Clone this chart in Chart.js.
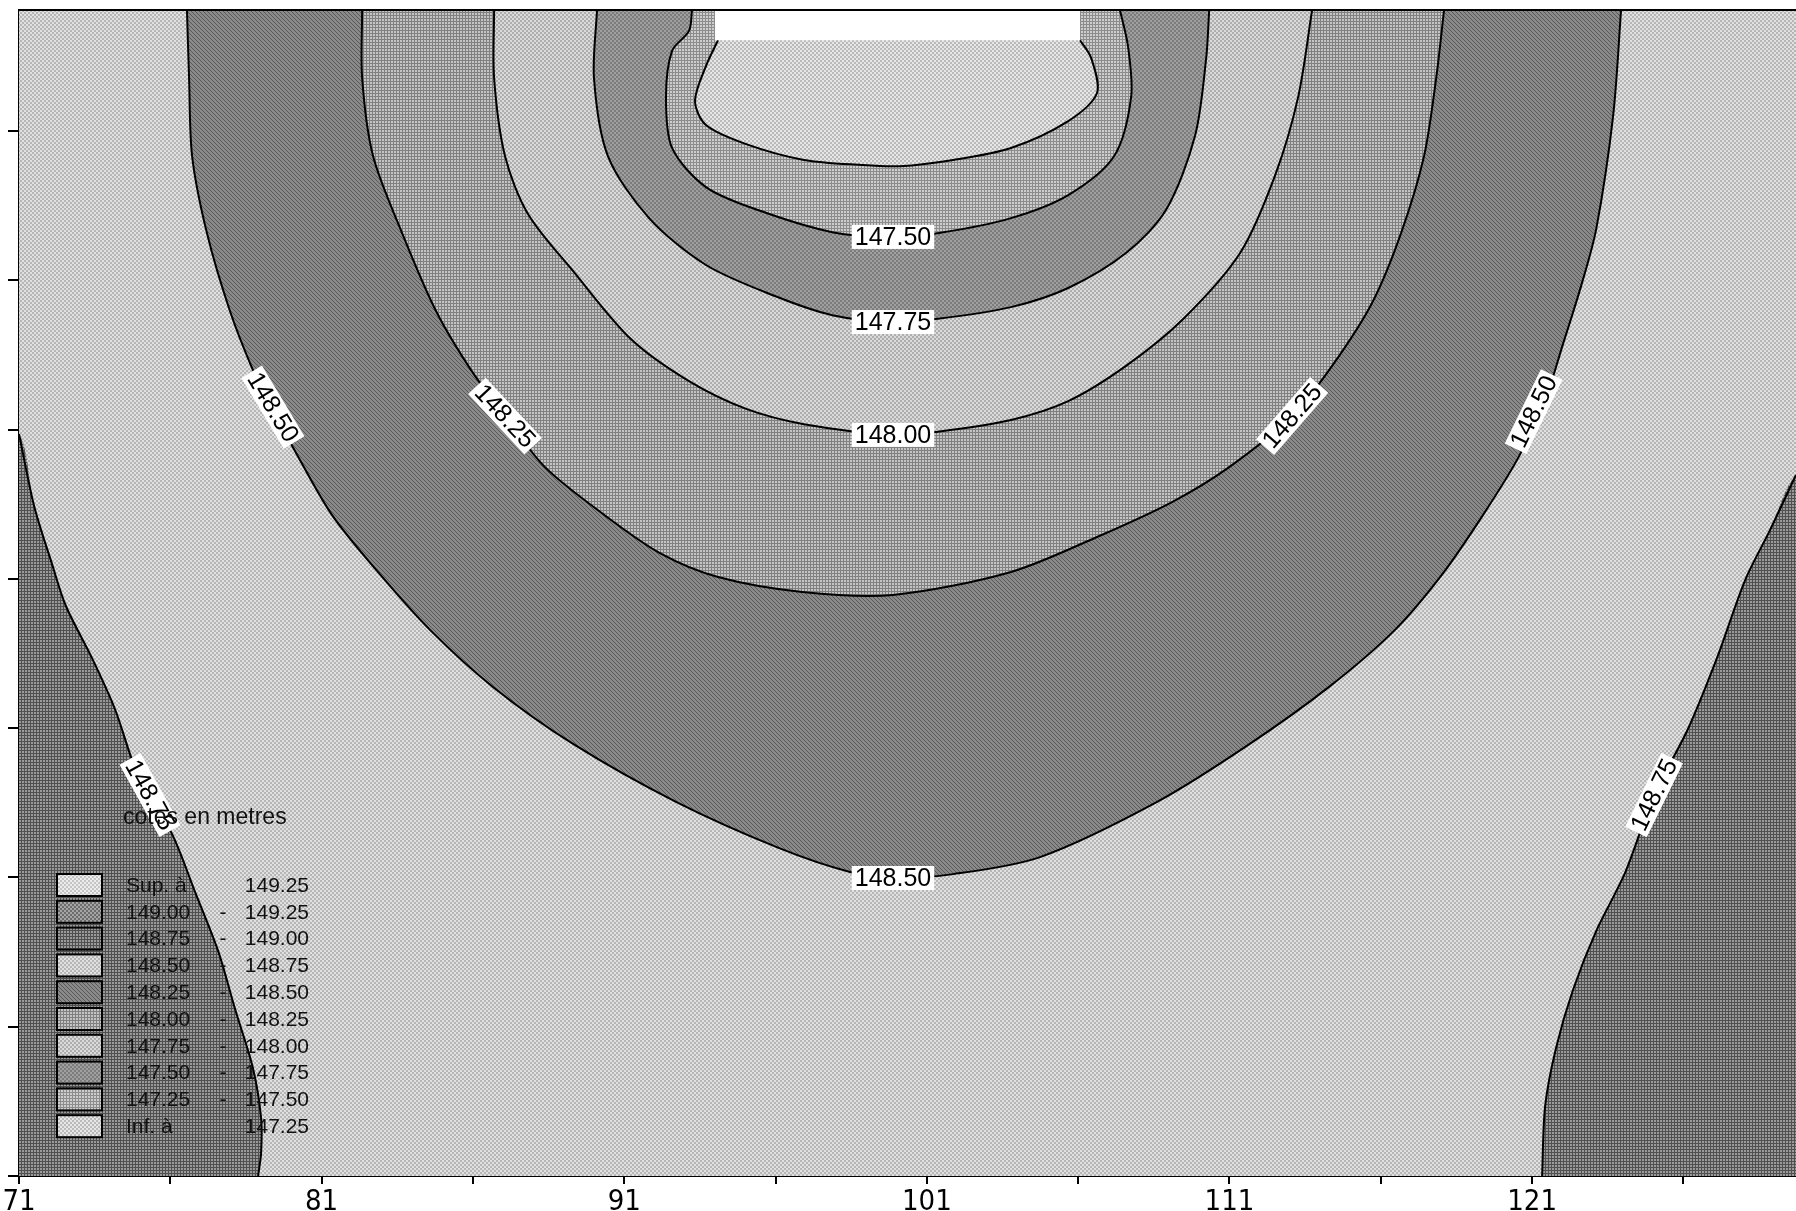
<!DOCTYPE html>
<html>
<head>
<meta charset="utf-8">
<script src="https://cdn.jsdelivr.net/npm/chart.js@4.4.1/dist/chart.umd.min.js"></script>
<style>
  html, body { margin: 0; padding: 0; background: #fff; }
  #wrap { width: 1796px; height: 1211px; }
</style>
</head>
<body>
<div id="wrap"><canvas id="cotes" width="1796" height="1211"></canvas></div>
<script>
// axis ranges and ticks
const xMin = 71, xMax = 129.72;
const yMin = 0, yMax = 39.05;
const xTickValues = [71, 76, 81, 86, 91, 96, 101, 106, 111, 116, 121, 126];
const xLabelValues = [71, 81, 91, 101, 111, 121];
const yTickValues = [0, 5, 10, 15, 20, 25, 30, 35];

// class breaks of the legend (metres)
const classBreaks = [149.25, 149.00, 148.75, 148.50, 148.25, 148.00, 147.75, 147.50, 147.25];

// contour lines, [x, y]
const c14875Left = [[71.00,24.85],[71.50,22.44],[72.09,20.50],[72.55,19.09],[73.41,17.35],[74.17,15.64],[74.93,13.43],[76.06,11.45],[76.82,9.51],[77.58,7.54],[78.14,5.59],[78.73,3.62],[79.00,1.94],[79.00,0.77],[78.90,0]];
const c14875Right = [[129.72,23.48],[128.86,21.63],[128.04,19.96],[127.11,17.35],[126.15,14.97],[125.03,12.76],[124.07,10.15],[123.12,8.21],[122.35,6.23],[121.79,4.29],[121.43,2.34],[121.33,0]];
const c14850 = [[76.55,39.05],[76.62,36.77],[76.72,34.16],[77.21,31.58],[77.97,28.97],[78.73,26.99],[79.29,25.82],[80.05,24.41],[81.34,22.14],[82.86,20.23],[84.58,18.29],[86.66,16.38],[89.31,14.47],[92.71,12.53],[96.12,10.98],[98.46,10.18],[99.88,9.98],[101.87,10.11],[104.74,10.68],[108.61,12.53],[111.61,14.43],[114.29,16.38],[116.47,18.29],[118.06,20.19],[119.38,22.14],[120.54,24.05],[121.43,25.99],[122.02,27.86],[122.62,29.81],[123.12,31.72],[123.68,35.53],[123.94,39.05]];
const c14825 = [[82.34,39.05],[82.34,36.77],[82.70,34.16],[83.66,31.58],[84.78,28.97],[85.94,26.99],[87.06,25.45],[88.38,23.74],[90.30,22.17],[92.18,20.86],[94.10,20.06],[96.88,19.56],[99.88,19.46],[103.78,20.23],[106.62,21.40],[109.10,22.57],[110.99,23.74],[113.07,25.45],[114.39,27.13],[115.71,29.24],[116.67,31.58],[117.43,34.16],[117.83,36.77],[118.09,39.05]];
const c14800 = [[86.70,39.05],[86.70,36.77],[87.06,34.16],[87.82,32.22],[89.34,30.27],[91.22,28.03],[93.14,26.62],[95.03,25.69],[96.94,25.18],[99.88,24.82],[101.30,24.92],[103.78,25.32],[105.67,25.95],[107.58,27.13],[109.47,28.70],[111.35,30.91],[112.51,33.52],[113.27,36.14],[113.73,39.05]];
const c14775 = [[90.10,39.05],[90.00,36.77],[90.46,34.16],[91.82,32.08],[93.70,30.51],[95.98,29.47],[97.87,28.83],[99.88,28.60],[101.30,28.70],[103.78,29.10],[105.67,29.74],[107.58,30.91],[108.90,32.35],[109.86,34.83],[110.23,37.44],[110.33,39.05]];
const c14750 = [[93.24,39.05],[93.14,38.35],[92.58,37.68],[92.38,36.14],[92.58,34.43],[93.70,33.12],[95.42,32.35],[97.87,31.61],[99.88,31.45],[101.40,31.58],[103.78,32.08],[105.67,32.85],[107.19,34.16],[107.75,36.14],[107.65,37.81],[107.38,39.05]];
const c14725 = [[94.10,38.04],[93.70,37.17],[93.34,36.00],[93.70,35.20],[95.03,34.56],[96.94,34.03],[98.83,33.86],[100.11,33.82],[101.87,34.03],[103.78,34.43],[105.67,35.33],[106.62,36.27],[106.43,37.44],[106.06,38.04]];

// blank strip at the top (no data)
const noDataX = [94.00, 106.06];
const noDataY = [38.04, 39.05];

// contour labels: text, x, y, angle (deg)
const contourLabels = [
  ['147.50', 99.88, 31.45, 0],
  ['147.75', 99.88, 28.60, 0],
  ['148.00', 99.88, 24.82, 0],
  ['148.50', 99.88, 9.98, 0],
  ['148.50', 79.39, 25.75, 59],
  ['148.25', 87.06, 25.45, 47],
  ['148.25', 113.07, 25.45, -49],
  ['148.50', 121.05, 25.60, -64],
  ['148.75', 75.33, 12.76, 61],
  ['148.75', 125.03, 12.76, -64]
];

// halftone-like fills
function makePattern(kind, bg, fg) {
  const c = document.createElement('canvas');
  const n = kind === 'grid' ? 3 : 4;
  c.width = n; c.height = n;
  const g = c.getContext('2d');
  g.fillStyle = bg;
  g.fillRect(0, 0, n, n);
  g.fillStyle = fg;
  if (kind === 'check') {
    g.fillRect(0, 0, 2, 2);
    g.fillRect(2, 2, 2, 2);
  } else if (kind === 'grid') {
    g.fillRect(0, 0, n, 1);
    g.fillRect(0, 0, 1, n);
  } else if (kind === 'diag') {
    for (let i = 0; i < n; i++) g.fillRect(i, i, 1, 1);
  }
  return g.createPattern(c, 'repeat');
}

const pSup = makePattern('check', '#ececec', '#c4c4c4');
const p14900 = makePattern('check', '#a4a4a4', '#6c6c6c');
const p14875 = makePattern('grid', '#9a9a9a', '#505050');
const p14850 = makePattern('check', '#e0e0e0', '#b6b6b6');
const p14825 = makePattern('diag', '#8a8a8a', '#585858');
const p14800 = makePattern('grid', '#c4c4c4', '#808080');
const p14775 = makePattern('check', '#dadada', '#aeaeae');
const p14750 = makePattern('check', '#a0a0a0', '#7c7c7c');
const p14725 = makePattern('grid', '#cdcdcd', '#8c8c8c');
const pInf = makePattern('check', '#e6e6e6', '#bababa');

const legendFills = [pSup, p14900, p14875, p14850, p14825, p14800, p14775, p14750, p14725, pInf];

// polygons closed outside the plot area
function closeTop(line) {
  return [[line[0][0], yMax + 1], ...line, [line[line.length - 1][0], yMax + 1]];
}
function closeLeft(line) {
  return [[xMin - 1, line[0][1]], ...line, [line[line.length - 1][0], yMin - 1], [xMin - 1, yMin - 1]];
}
function closeRight(line) {
  return [[xMax + 1, line[0][1]], ...line, [line[line.length - 1][0], yMin - 1], [xMax + 1, yMin - 1]];
}
const framePoly = [[xMin - 1, yMin - 1], [xMax + 1, yMin - 1], [xMax + 1, yMax + 1], [xMin - 1, yMax + 1]];
const noDataPoly = [[noDataX[0], noDataY[0]], [noDataX[1], noDataY[0]], [noDataX[1], yMax + 1], [noDataX[0], yMax + 1]];

// painted from outside in
const regions = [
  { poly: framePoly, fill: p14850, line: null, tension: 0 },
  { poly: closeLeft(c14875Left), fill: p14875, line: c14875Left, tension: 0.3 },
  { poly: closeRight(c14875Right), fill: p14875, line: c14875Right, tension: 0.3 },
  { poly: closeTop(c14850), fill: p14825, line: c14850, tension: 0.3 },
  { poly: closeTop(c14825), fill: p14800, line: c14825, tension: 0.3 },
  { poly: closeTop(c14800), fill: p14775, line: c14800, tension: 0.3 },
  { poly: closeTop(c14775), fill: p14750, line: c14775, tension: 0.3 },
  { poly: closeTop(c14750), fill: p14725, line: c14750, tension: 0.3 },
  { poly: closeTop(c14725), fill: pInf, line: c14725, tension: 0.3 },
  { poly: noDataPoly, fill: '#ffffff', line: null, tension: 0 }
];

const toXY = pts => pts.map(p => ({ x: p[0], y: p[1] }));
const datasets = [];
regions.forEach((r, k) => {
  datasets.push({
    data: toXY(r.poly),
    fill: 'shape',
    backgroundColor: r.fill,
    borderWidth: 0,
    borderColor: 'rgba(0,0,0,0)',
    pointRadius: 0,
    tension: r.tension,
    order: 100 - 2 * k
  });
  if (r.line) {
    datasets.push({
      data: toXY(r.line),
      fill: false,
      borderColor: '#000',
      borderWidth: 2,
      pointRadius: 0,
      tension: r.tension,
      order: 99 - 2 * k
    });
  }
});

const mapDecor = {
  id: 'mapDecor',
  afterDatasetsDraw(chart) {
    const ctx = chart.ctx, xs = chart.scales.x, ys = chart.scales.y;
    ctx.save();
    ctx.font = '25px "Liberation Sans", Arial, sans-serif';
    ctx.textAlign = 'center';
    ctx.textBaseline = 'middle';
    contourLabels.forEach(([txt, lx, ly, ang]) => {
      const w = ctx.measureText(txt).width;
      ctx.save();
      ctx.translate(xs.getPixelForValue(lx), ys.getPixelForValue(ly));
      ctx.rotate(ang * Math.PI / 180);
      ctx.fillStyle = '#fff';
      ctx.fillRect(-w / 2 - 3, -12, w + 6, 24);
      ctx.fillStyle = '#000';
      ctx.fillText(txt, 0, 1);
      ctx.restore();
    });
    ctx.restore();
  },
  afterDraw(chart) {
    const ctx = chart.ctx, a = chart.chartArea;
    ctx.save();
    // top frame line
    ctx.strokeStyle = '#000';
    ctx.lineWidth = 2;
    ctx.beginPath();
    ctx.moveTo(a.left, a.top);
    ctx.lineTo(a.right, a.top);
    ctx.stroke();

    // legend
    ctx.fillStyle = '#111';
    ctx.font = '23px "Liberation Sans", Arial, sans-serif';
    ctx.textBaseline = 'middle';
    ctx.textAlign = 'left';
    ctx.fillText('cotes en metres', 123, 818);
    ctx.font = '21px "Liberation Sans", Arial, sans-serif';
    const f = v => v.toFixed(2);
    legendFills.forEach((pat, i) => {
      const yc = 885 + i * 26.8;
      ctx.fillStyle = pat;
      ctx.fillRect(57, yc - 11, 45, 22);
      ctx.strokeStyle = '#000';
      ctx.lineWidth = 2;
      ctx.strokeRect(57, yc - 11, 45, 22);
      ctx.fillStyle = '#111';
      ctx.textAlign = 'left';
      let left, right;
      if (i === 0) { left = 'Sup. à'; right = f(classBreaks[0]); }
      else if (i === legendFills.length - 1) { left = 'Inf. à'; right = f(classBreaks[classBreaks.length - 1]); }
      else {
        left = f(classBreaks[i]); right = f(classBreaks[i - 1]);
        ctx.textAlign = 'center';
        ctx.fillText('-', 223, yc + 1);
        ctx.textAlign = 'left';
      }
      ctx.fillText(left, 126, yc + 1);
      ctx.textAlign = 'right';
      ctx.fillText(right, 309, yc + 1);
    });
    ctx.restore();
  }
};

new Chart(document.getElementById('cotes').getContext('2d'), {
  type: 'line',
  data: { datasets: datasets },
  options: {
    responsive: false,
    animation: false,
    events: [],
    layout: { padding: { top: 10, right: 0, bottom: 0, left: 0 } },
    plugins: {
      legend: { display: false },
      tooltip: { enabled: false }
    },
    scales: {
      x: {
        type: 'linear',
        min: xMin,
        max: xMax,
        z: 1,
        afterBuildTicks: s => { s.ticks = xTickValues.map(v => ({ value: v })); },
        afterFit: s => { s.height = 35; },
        ticks: {
          autoSkip: false,
          maxRotation: 0,
          minRotation: 0,
          padding: 1,
          color: '#000',
          font: { family: '"Liberation Sans Narrow", "DejaVu Sans Condensed", "Liberation Sans", sans-serif', size: 29 },
          callback: v => xLabelValues.includes(v) ? String(v) : ''
        },
        grid: { drawOnChartArea: false, drawTicks: true, tickLength: 8, color: '#000', lineWidth: 2 },
        border: { color: '#000', width: 2 }
      },
      y: {
        type: 'linear',
        min: yMin,
        max: yMax,
        z: 1,
        afterBuildTicks: s => { s.ticks = yTickValues.map(v => ({ value: v })); },
        afterFit: s => { s.width = 19; },
        ticks: { display: false },
        grid: { drawOnChartArea: false, drawTicks: true, tickLength: 11, color: '#000', lineWidth: 2 },
        border: { color: '#000', width: 2 }
      }
    }
  },
  plugins: [mapDecor]
});
</script>
</body>
</html>
